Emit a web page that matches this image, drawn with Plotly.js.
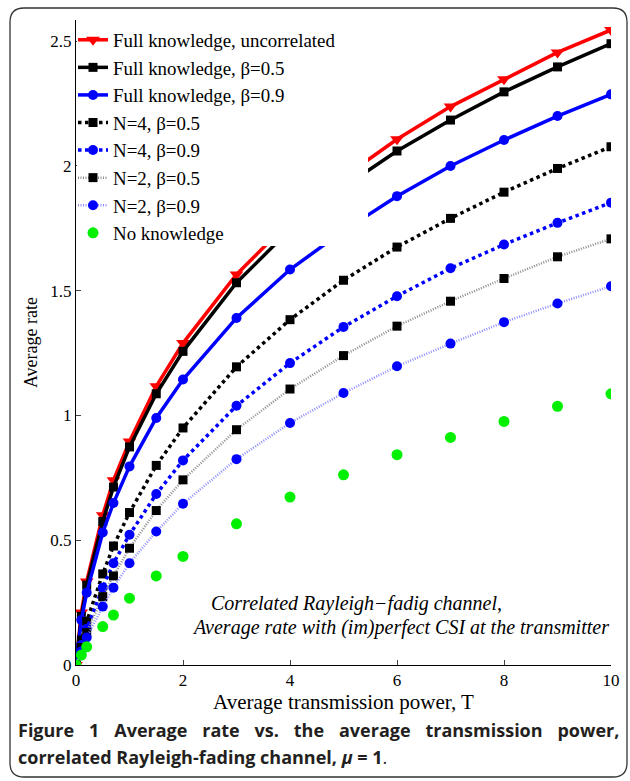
<!DOCTYPE html>
<html>
<head>
<meta charset="utf-8">
<script src="https://cdn.plot.ly/plotly-3.0.1.min.js"></script>
<style>html,body{margin:0;padding:0;background:#fff;}#chart{width:630px;height:781px;}</style>
</head>
<body>
<div id="chart"></div>
<script>
// Average transmission power T
const T = [0, 0.1, 0.2, 0.5, 0.7, 1, 1.5, 2, 3, 4, 5, 6, 7, 8, 9, 10];

const fullUncorrelated = [0, 0.21, 0.335, 0.6, 0.74, 0.896, 1.117, 1.29, 1.565, 1.78, 1.955, 2.107, 2.238, 2.348, 2.455, 2.545];
const fullBeta05 = [0, 0.195, 0.32, 0.575, 0.713, 0.874, 1.087, 1.257, 1.532, 1.745, 1.915, 2.06, 2.184, 2.297, 2.397, 2.49];
const fullBeta09 = [0, 0.18, 0.29, 0.531, 0.649, 0.796, 0.99, 1.144, 1.391, 1.585, 1.74, 1.879, 2.0, 2.104, 2.2, 2.287];
const n4Beta05 = [0, 0.1, 0.175, 0.365, 0.477, 0.611, 0.8, 0.95, 1.195, 1.384, 1.542, 1.675, 1.79, 1.895, 1.99, 2.077];
const n4Beta09 = [0, 0.08, 0.145, 0.31, 0.408, 0.522, 0.685, 0.82, 1.039, 1.21, 1.355, 1.478, 1.59, 1.685, 1.772, 1.853];
const n2Beta05 = [0, 0.07, 0.13, 0.274, 0.357, 0.468, 0.619, 0.742, 0.943, 1.106, 1.24, 1.358, 1.458, 1.549, 1.636, 1.708];
const n2Beta09 = [0, 0.055, 0.11, 0.234, 0.31, 0.408, 0.535, 0.646, 0.825, 0.97, 1.09, 1.197, 1.288, 1.374, 1.449, 1.518];
const noKnowledge = [0, 0.04, 0.073, 0.154, 0.2, 0.268, 0.357, 0.435, 0.566, 0.673, 0.762, 0.843, 0.912, 0.976, 1.037, 1.087];

const names = [
  'Full knowledge, uncorrelated',
  'Full knowledge, β=0.5',
  'Full knowledge, β=0.9',
  'N=4, β=0.5',
  'N=4, β=0.9',
  'N=2, β=0.5',
  'N=2, β=0.9',
  'No knowledge'
];

const traces = [
  {y: fullUncorrelated, mode: 'lines+markers', line: {color: '#ff0000', width: 3.5},
   marker: {symbol: 'triangle-down', size: 12, color: '#ff0000'}},
  {y: fullBeta05, mode: 'lines+markers', line: {color: '#000000', width: 3.5},
   marker: {symbol: 'square', size: 9, color: '#000000'}},
  {y: fullBeta09, mode: 'lines+markers', line: {color: '#0000ff', width: 3.5},
   marker: {symbol: 'circle', size: 10, color: '#0000ff'}},
  {y: n4Beta05, mode: 'lines+markers', line: {color: '#000000', width: 3.5, dash: 'dot'},
   marker: {symbol: 'square', size: 9, color: '#000000'}},
  {y: n4Beta09, mode: 'lines+markers', line: {color: '#0000ff', width: 3.5, dash: 'dot'},
   marker: {symbol: 'circle', size: 10, color: '#0000ff'}},
  {y: n2Beta05, mode: 'lines+markers', line: {color: '#8c8c8c', width: 2.5, dash: '1px,1.5px'},
   marker: {symbol: 'square', size: 9, color: '#000000'}},
  {y: n2Beta09, mode: 'lines+markers', line: {color: '#8c8cff', width: 2.5, dash: '1px,1.5px'},
   marker: {symbol: 'circle', size: 10, color: '#0000ff'}},
  {y: noKnowledge, mode: 'markers',
   marker: {symbol: 'circle', size: 11, color: '#00f000'}}
].map((t, i) => Object.assign(t, {x: T, name: names[i], type: 'scatter'}));

// pixel -> paper helpers
const L = 76, R = 611, TOP = 20, BOT = 665;
const px = v => (v - L) / (R - L);
const py = v => (BOT - v) / (BOT - TOP);
const fx0 = 10, fx1 = 627, fy0 = 8, fy1 = 777, rr = 14;
const framePath = [
  'M', px(fx0 + rr), py(fy0),
  'L', px(fx1 - rr), py(fy0),
  'Q', px(fx1), py(fy0), px(fx1), py(fy0 + rr),
  'L', px(fx1), py(fy1 - rr),
  'Q', px(fx1), py(fy1), px(fx1 - rr), py(fy1),
  'L', px(fx0 + rr), py(fy1),
  'Q', px(fx0), py(fy1), px(fx0), py(fy1 - rr),
  'L', px(fx0), py(fy0 + rr),
  'Q', px(fx0), py(fy0), px(fx0 + rr), py(fy0), 'Z'
].join(' ');

const serif = 'Liberation Serif, Times New Roman, serif';
const sans = 'Open Sans, Noto Sans, sans-serif';

const layout = {
  width: 630, height: 781,
  margin: {l: L, r: 630 - R, t: TOP, b: 781 - BOT},
  paper_bgcolor: '#ffffff', plot_bgcolor: '#ffffff',
  showlegend: true,
  font: {family: serif, size: 17, color: '#000'},
  xaxis: {
    range: [0, 10], tickvals: [0, 2, 4, 6, 8, 10], ticks: 'inside', ticklen: 5,
    showline: true, linecolor: '#000', linewidth: 1, showgrid: false, zeroline: false,
    tickfont: {family: serif, size: 17, color: '#000'},
    title: {text: 'Average transmission power, T', font: {family: serif, size: 21, color: '#000'}, standoff: 0}
  },
  yaxis: {
    range: [0, 2.585], tickvals: [0, 0.5, 1, 1.5, 2, 2.5], ticktext: ['0', '0.5', '1', '1.5', '2', '2.5'],
    ticks: 'inside', ticklen: 5,
    showline: true, linecolor: '#000', linewidth: 1, showgrid: false, zeroline: false,
    tickfont: {family: serif, size: 17, color: '#000'},
    title: {text: 'Average rate', font: {family: serif, size: 18, color: '#000'}, standoff: 8}
  },
  legend: {
    x: px(73), y: py(21), xanchor: 'left', yanchor: 'top',
    bgcolor: 'rgba(255,255,255,0)', borderwidth: 0,
    font: {family: serif, size: 18.9, color: '#000'},
    itemwidth: 30
  },
  shapes: [
    {type: 'path', xref: 'paper', yref: 'paper', path: framePath,
     line: {color: '#333', width: 1.3}, fillcolor: 'rgba(0,0,0,0)', layer: 'below'},
    // opaque legend box
    {type: 'rect', xref: 'paper', yref: 'paper', x0: px(77), x1: px(368), y0: py(246), y1: py(21),
     line: {width: 0}, fillcolor: '#ffffff', layer: 'above'}
  ],
  annotations: [
    {xref: 'paper', yref: 'paper', x: px(209), y: py(603), xanchor: 'left', yanchor: 'middle', showarrow: false,
     text: '<i>Correlated Rayleigh−fadig channel,</i>', font: {family: serif, size: 20, color: '#000'}},
    {xref: 'paper', yref: 'paper', x: px(190), y: py(627), xanchor: 'left', yanchor: 'middle', showarrow: false,
     text: '<i>Average rate with (im)perfect CSI at the transmitter</i>', font: {family: serif, size: 20, color: '#000'}},
    {xref: 'paper', yref: 'paper', x: px(16), y: py(730), xanchor: 'left', yanchor: 'middle', showarrow: false,
     text: '<span style="word-spacing:10.2px"><b>Figure 1 Average rate vs. the average transmission power,</b></span>',
     font: {family: sans, size: 18, color: '#231f20'}},
    {xref: 'paper', yref: 'paper', x: px(16), y: py(757), xanchor: 'left', yanchor: 'middle', showarrow: false,
     text: '<b>correlated Rayleigh-fading channel, <i>μ</i> = 1</b>.',
     font: {family: sans, size: 18, color: '#231f20'}}
  ]
};

Plotly.newPlot('chart', traces, layout, {displayModeBar: false, staticPlot: true});
</script>
</body>
</html>
